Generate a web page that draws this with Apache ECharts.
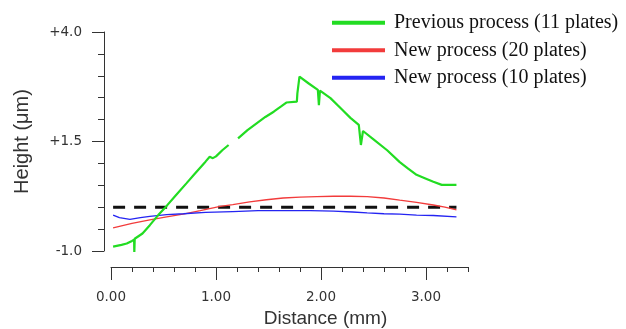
<!DOCTYPE html>
<html>
<head>
<meta charset="utf-8">
<script src="https://cdn.jsdelivr.net/npm/echarts@6/dist/echarts.min.js"></script>
<style>
  html, body { margin: 0; padding: 0; background: #fff; }
  #chart { width: 626px; height: 329px; }
</style>
</head>
<body>
<div id="chart"></div>
<script>
// profile data: [distance mm, height um]
const previousProcess = [
    [0.02, -0.90], [0.10, -0.86], [0.15, -0.83], [0.20, -0.77], [0.22, -0.74], [0.222, -1.04], [0.226, -0.72],
    [0.30, -0.60], [0.37, -0.41], [0.45, -0.18], [0.53, 0.03], [0.62, 0.28], [0.72, 0.55], [0.80, 0.77],
    [0.90, 1.04], [0.94, 1.15], [0.97, 1.12], [1.00, 1.16], [1.06, 1.30], [1.12, 1.42], [1.16, "-"],
    [1.21, 1.57], [1.30, 1.76], [1.39, 1.92], [1.47, 2.06], [1.55, 2.18], [1.62, 2.30], [1.67, 2.39],
    [1.77, 2.41], [1.775, 2.60], [1.795, 2.98], [1.88, 2.83], [1.97, 2.68], [1.98, 2.33], [1.99, 2.66],
    [2.09, 2.49], [2.20, 2.23], [2.28, 2.04], [2.36, 1.88], [2.38, 1.42], [2.40, 1.74], [2.50, 1.55],
    [2.63, 1.30], [2.75, 1.03], [2.83, 0.88], [2.91, 0.74], [3.00, 0.65], [3.07, 0.58], [3.15, 0.51],
    [3.29, 0.51]
];
const newProcess20 = [
    [0.02, -0.47], [0.20, -0.37], [0.37, -0.29], [0.53, -0.22], [0.70, -0.15], [0.85, -0.08], [1.04, 0.02],
    [1.16, 0.06], [1.32, 0.12], [1.48, 0.17], [1.64, 0.21], [1.80, 0.23], [1.96, 0.24], [2.12, 0.25],
    [2.28, 0.25], [2.44, 0.24], [2.60, 0.21], [2.75, 0.16], [2.91, 0.11], [3.07, 0.05], [3.18, 0.0],
    [3.29, -0.06]
];
const newProcess10 = [
    [0.02, -0.18], [0.08, -0.24], [0.18, -0.28], [0.28, -0.24], [0.37, -0.21], [0.53, -0.17],
    [0.69, -0.15], [0.90, -0.12], [1.16, -0.10], [1.40, -0.08], [1.64, -0.08], [1.90, -0.08],
    [2.12, -0.09], [2.30, -0.11], [2.44, -0.13], [2.60, -0.15], [2.75, -0.16], [2.91, -0.18],
    [3.07, -0.19], [3.29, -0.22]
];
const referenceLevel = [[0.02, 0], [3.29, 0]];

const seriesNames = ["Previous process (11 plates)", "New process (20 plates)", "New process (10 plates)"];
const seriesColors = ["#22dc22", "#f23b3b", "#2424f2"];

const xMajorTicks = [0, 1, 2, 3];
const xTickLabels = ["0.00", "1.00", "2.00", "3.00"];
const yMajorTicks = [-1, 1.5, 4];
const yTickLabels = ["-1.0", "+1.5", "+4.0"];

const axisColor = "#333";
const labelFont = "Liberation Sans";
const tickFont = "DejaVu Sans";

const chart = echarts.init(document.getElementById("chart"), null, { renderer: "canvas" });

chart.setOption({
    animation: false,
    grid: { left: 111, right: 158, top: 32, bottom: 78, outerBoundsMode: "none", containLabel: false },
    legend: {
        data: seriesNames,
        orient: "vertical",
        left: 332,
        top: 12,
        padding: 0,
        icon: "rect",
        itemWidth: 53,
        itemHeight: 4,
        itemGap: 6,
        textStyle: {
            fontFamily: "Liberation Serif",
            fontSize: 20,
            color: "#111",
            lineHeight: 21.5,
            padding: [0, 0, 0, 4]
        }
    },
    xAxis: [
        {
            type: "value", min: 0, max: 3.4, interval: 0.2, offset: 16, position: "bottom",
            axisLine: { show: true, onZero: false, lineStyle: { color: axisColor, width: 1 } },
            axisTick: { show: true, length: 5, lineStyle: { color: axisColor } },
            axisLabel: { show: false },
            splitLine: { show: false }
        },
        {
            type: "value", min: 0, max: 3.4, offset: 16, position: "bottom",
            axisLine: { show: false, onZero: false },
            axisTick: { show: true, length: 13, customValues: xMajorTicks, lineStyle: { color: axisColor } },
            axisLabel: {
                customValues: xMajorTicks,
                formatter: (v) => xTickLabels[xMajorTicks.indexOf(v)] ?? "",
                margin: 23, fontFamily: tickFont, fontSize: 13.5, color: "#333"
            },
            splitLine: { show: false },
            name: "Distance (mm)",
            nameLocation: "middle",
            nameGap: 42,
            nameTextStyle: { fontFamily: labelFont, fontSize: 19, color: "#333", padding: [0, 0, 0, 72] }
        }
    ],
    yAxis: [
        {
            type: "value", min: -1, max: 4, interval: 0.5, offset: 7, position: "left",
            axisLine: { show: true, onZero: false, lineStyle: { color: axisColor, width: 1 } },
            axisTick: { show: true, length: 6, lineStyle: { color: axisColor } },
            axisLabel: { show: false },
            splitLine: { show: false }
        },
        {
            type: "value", min: -1, max: 4, offset: 7, position: "left",
            axisLine: { show: false, onZero: false },
            axisTick: { show: true, length: 12, customValues: yMajorTicks, lineStyle: { color: axisColor } },
            axisLabel: {
                customValues: yMajorTicks,
                formatter: (v) => yTickLabels[yMajorTicks.indexOf(v)] ?? "",
                margin: 22, fontFamily: tickFont, fontSize: 13.5, color: "#333"
            },
            splitLine: { show: false },
            name: "Height (\u03bcm)",
            nameLocation: "middle",
            nameGap: 72,
            nameTextStyle: { fontFamily: labelFont, fontSize: 20, color: "#333" }
        }
    ],
    series: [
        {
            name: seriesNames[0], type: "line", data: previousProcess, showSymbol: false,
            connectNulls: false, z: 4,
            itemStyle: { color: seriesColors[0] },
            lineStyle: { color: seriesColors[0], width: 2.2 }
        },
        {
            name: seriesNames[1], type: "line", data: newProcess20, showSymbol: false, z: 3,
            itemStyle: { color: seriesColors[1] },
            lineStyle: { color: seriesColors[1], width: 1.3 }
        },
        {
            name: seriesNames[2], type: "line", data: newProcess10, showSymbol: false, z: 3,
            itemStyle: { color: seriesColors[2] },
            lineStyle: { color: seriesColors[2], width: 1.3 }
        },
        {
            name: "reference", type: "line", data: referenceLevel, showSymbol: false, z: 2,
            lineStyle: { color: "#111", width: 3, type: [12, 9] }
        }
    ]
});
</script>
</body>
</html>
